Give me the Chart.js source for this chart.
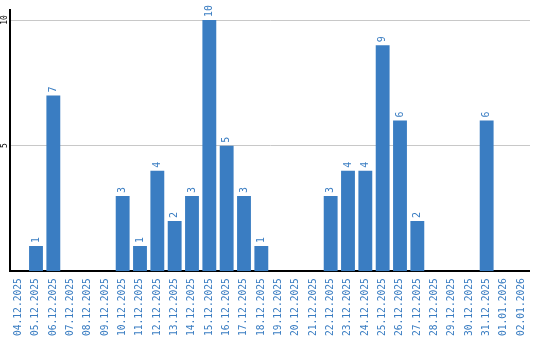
<!DOCTYPE html>
<html>
<head>
<meta charset="utf-8">
<script src="https://cdn.jsdelivr.net/npm/chart.js@4/dist/chart.umd.min.js"></script>
<style>
  body { margin: 0; background: #fff; }
  #wrap { width: 540px; height: 340px; }
</style>
</head>
<body>
<div id="wrap"><canvas id="grafico" width="540" height="340"></canvas></div>
<script>
// dados do gráfico
const dias = ['04.12.2025','05.12.2025','06.12.2025','07.12.2025','08.12.2025','09.12.2025',
  '10.12.2025','11.12.2025','12.12.2025','13.12.2025','14.12.2025','15.12.2025','16.12.2025',
  '17.12.2025','18.12.2025','19.12.2025','20.12.2025','21.12.2025','22.12.2025','23.12.2025',
  '24.12.2025','25.12.2025','26.12.2025','27.12.2025','28.12.2025','29.12.2025','30.12.2025',
  '31.12.2025','01.01.2026','02.01.2026'];
const valores = [0,1,7,0,0,0,3,1,4,2,3,10,5,3,1,0,0,0,3,4,4,9,6,2,0,0,0,6,0,0];
const yTicks = [5, 10];

const azul = '#3a7dc2';
const fonteMono = '"DejaVu Sans Mono", monospace';

// rótulos de valor e ticks do eixo Y (rotacionados)
const rotulos = {
  id: 'rotulos',
  afterDatasetsDraw(chart) {
    const ctx = chart.ctx;
    const meta = chart.getDatasetMeta(0);
    ctx.save();
    ctx.fillStyle = azul;
    ctx.font = '10px ' + fonteMono;
    ctx.textAlign = 'left';
    ctx.textBaseline = 'middle';
    meta.data.forEach((bar, i) => {
      if (!valores[i]) return;
      ctx.save();
      ctx.translate(bar.x, bar.y - 3);
      ctx.rotate(-Math.PI / 2);
      ctx.fillText(String(valores[i]), 0, 0);
      ctx.restore();
    });
    const ys = chart.scales.y;
    ctx.fillStyle = '#000';
    ctx.font = '8px ' + fonteMono;
    ctx.textAlign = 'center';
    ys.ticks.forEach(t => {
      ctx.save();
      ctx.translate(ys.left - 5, ys.getPixelForValue(t.value));
      ctx.rotate(-Math.PI / 2);
      ctx.fillText(String(t.value), 0, 0);
      ctx.restore();
    });
    ctx.restore();
  }
};

new Chart(document.getElementById('grafico'), {
  type: 'bar',
  data: {
    labels: dias,
    datasets: [{
      data: valores,
      backgroundColor: azul,
      barPercentage: 0.8,
      categoryPercentage: 1
    }]
  },
  options: {
    responsive: false,
    animation: false,
    layout: { padding: { top: 10, left: 10, right: 9, bottom: -3 } },
    plugins: { legend: { display: false }, tooltip: { enabled: false } },
    scales: {
      x: {
        grid: { display: false, drawTicks: false },
        border: { display: true, color: '#000', width: 2 },
        ticks: {
          color: azul,
          font: { family: fonteMono, size: 9.6 },
          minRotation: 90,
          maxRotation: 90,
          padding: 7,
          autoSkip: false
        }
      },
      y: {
        min: 0,
        max: 10.4,
        afterBuildTicks: (s) => { s.ticks = yTicks.map(v => ({ value: v })); },
        grid: { color: '#c8c8c8', drawTicks: false },
        border: { display: true, color: '#000', width: 2 },
        ticks: { display: false }
      }
    }
  },
  plugins: [rotulos]
});
</script>
</body>
</html>
